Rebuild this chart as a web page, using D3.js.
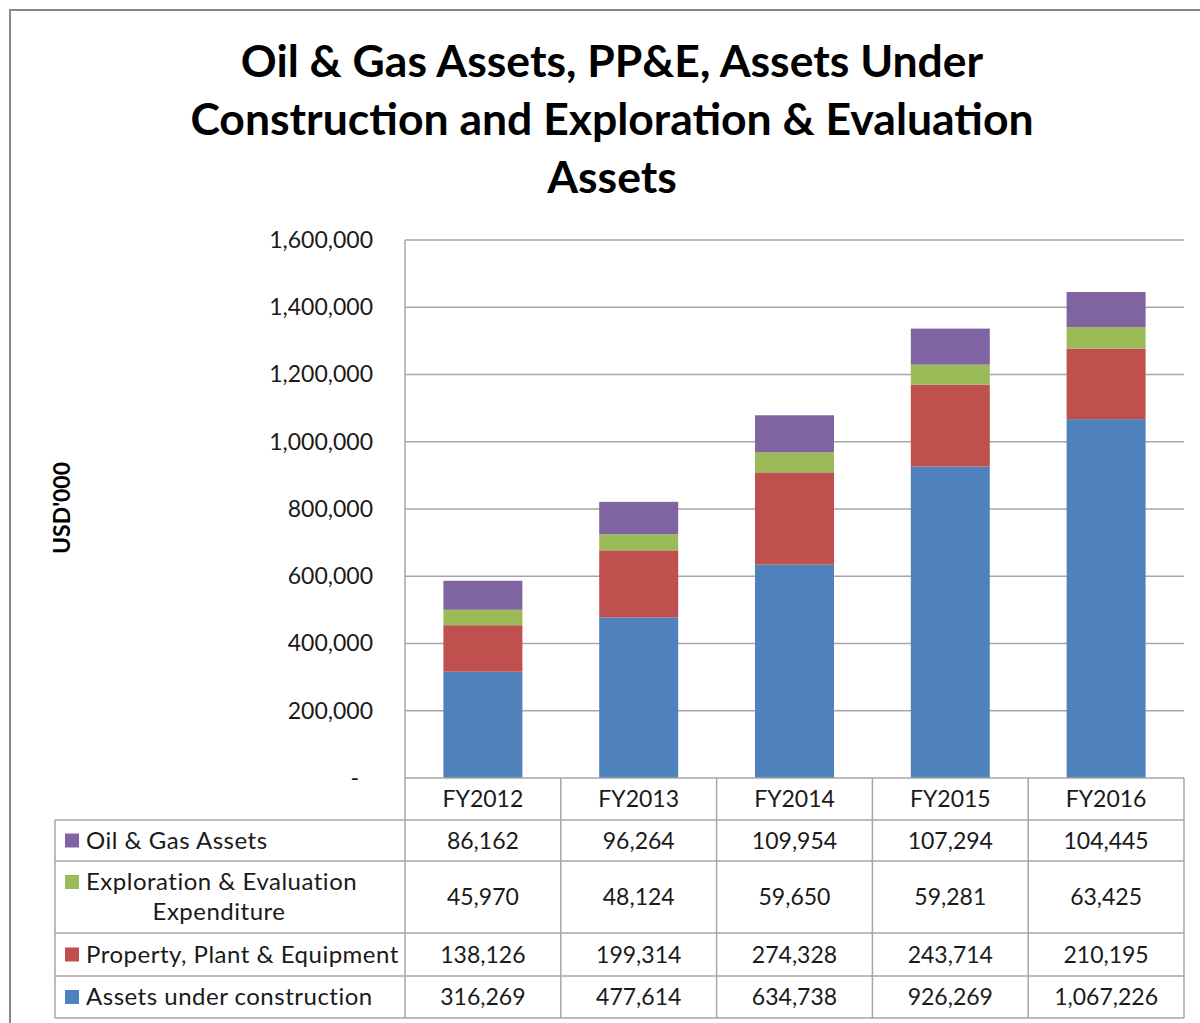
<!DOCTYPE html>
<html>
<head>
<meta charset="utf-8">
<script src="https://cdn.jsdelivr.net/npm/d3@7"></script>
<style>
  body { margin: 0; background: #fff; }
  text { font-family: Lato, "Open Sans", sans-serif; fill: #1a1a1a; }
</style>
</head>
<body>
<div class="chart"></div>
<script>
// data
const years = ["FY2012", "FY2013", "FY2014", "FY2015", "FY2016"];
const construction = [316269, 477614, 634738, 926269, 1067226];
const ppe = [138126, 199314, 274328, 243714, 210195];
const exploration = [45970, 48124, 59650, 59281, 63425];
const oilGas = [86162, 96264, 109954, 107294, 104445];
const yTicks = [0, 200000, 400000, 600000, 800000, 1000000, 1200000, 1400000, 1600000];

const series = [
  {key: "construction", name: ["Assets under construction"], values: construction, color: "#4F81BD"},
  {key: "ppe", name: ["Property, Plant & Equipment"], values: ppe, color: "#C0504D"},
  {key: "exploration", name: ["Exploration & Evaluation", "Expenditure"], values: exploration, color: "#9BBB59"},
  {key: "oilGas", name: ["Oil & Gas Assets"], values: oilGas, color: "#8064A2"}
];

const W = 1200, H = 1023;
const plot = {left: 405, right: 1184, top: 240, bottom: 778};

const svg = d3.select(".chart").append("svg")
  .attr("width", W)
  .attr("height", H);

// outer frame
svg.append("rect")
  .attr("x", 10).attr("y", 10)
  .attr("width", 1210).attr("height", 1040)
  .attr("fill", "none")
  .attr("stroke", "#878787")
  .attr("stroke-width", 2);

// title
const titleLines = ["Oil & Gas Assets, PP&E, Assets Under", "Construction and Exploration & Evaluation", "Assets"];
svg.append("g").selectAll("text")
  .data(titleLines)
  .enter().append("text")
  .attr("x", 612)
  .attr("y", (d, i) => 77 + i * 58)
  .attr("text-anchor", "middle")
  .style("font-size", "44.5px")
  .style("font-weight", "bold")
  .style("fill", "#000")
  .text(d => d);

const xScale = d3.scaleBand()
  .domain(years)
  .range([plot.left, plot.right]);

const yScale = d3.scaleLinear()
  .domain([0, 1600000])
  .range([plot.bottom, plot.top]);

// gridlines
svg.append("g").selectAll("line")
  .data(yTicks.slice(1))
  .enter().append("line")
  .attr("x1", plot.left).attr("x2", plot.right)
  .attr("y1", d => yScale(d)).attr("y2", d => yScale(d))
  .attr("stroke", "#a6a6a6")
  .attr("stroke-width", 1.5);

// y axis labels
const fmt = d3.format(",");
const yAxis = d3.axisLeft(yScale)
  .tickValues(yTicks)
  .tickSize(0)
  .tickPadding(32)
  .tickFormat(d => d === 0 ? "-" : fmt(d));
const yg = svg.append("g")
  .attr("transform", `translate(${plot.left},0)`)
  .call(yAxis);
yg.select(".domain").remove();
yg.selectAll("text")
  .style("font-size", "23px")
  .style("font-family", "Lato, sans-serif")
  .attr("fill", "#1a1a1a");
yg.selectAll(".tick").filter(d => d === 0).select("text").attr("dx", -14);

// y axis title
svg.append("text")
  .attr("transform", "translate(70,508) rotate(-90)")
  .attr("text-anchor", "middle")
  .style("font-size", "23px")
  .style("font-weight", "bold")
  .style("fill", "#000")
  .text("USD'000");

// stacked bars
const rows = years.map((y, i) => {
  const r = {year: y};
  series.forEach(s => r[s.key] = s.values[i]);
  return r;
});
const stacked = d3.stack().keys(series.map(s => s.key))(rows);
const barW = xScale.bandwidth() * 0.507;

svg.append("g").selectAll("g")
  .data(stacked)
  .enter().append("g")
  .attr("fill", (d, i) => series[i].color)
  .selectAll("rect")
  .data(d => d)
  .enter().append("rect")
  .attr("x", d => xScale(d.data.year) + (xScale.bandwidth() - barW) / 2)
  .attr("width", barW)
  .attr("y", d => yScale(d[1]))
  .attr("height", d => yScale(d[0]) - yScale(d[1]));

// data table
const tableLeft = 55;
const rowEdges = [778, 820, 861, 933, 976, 1018];
const tableOrder = series.slice().reverse(); // oil & gas first
const lineColor = "#a6a6a6";
const tg = svg.append("g");

// horizontal rules
tg.selectAll(".hrule")
  .data(rowEdges)
  .enter().append("line")
  .attr("x1", (d, i) => i === 0 ? plot.left : tableLeft)
  .attr("x2", plot.right)
  .attr("y1", d => d).attr("y2", d => d)
  .attr("stroke", lineColor)
  .attr("stroke-width", 1.5);

// vertical rules
const colEdges = years.map(y => xScale(y)).concat([plot.right]);
tg.selectAll(".vrule")
  .data(colEdges)
  .enter().append("line")
  .attr("x1", d => d).attr("x2", d => d)
  .attr("y1", (d, i) => i === 0 ? plot.top : rowEdges[0])
  .attr("y2", rowEdges[rowEdges.length - 1])
  .attr("stroke", lineColor)
  .attr("stroke-width", 1.5);
tg.append("line")
  .attr("x1", tableLeft).attr("x2", tableLeft)
  .attr("y1", rowEdges[1]).attr("y2", rowEdges[rowEdges.length - 1])
  .attr("stroke", lineColor)
  .attr("stroke-width", 1.5);

// header
tg.selectAll(".hdr")
  .data(years)
  .enter().append("text")
  .attr("x", d => xScale(d) + xScale.bandwidth() / 2)
  .attr("y", (rowEdges[0] + rowEdges[1]) / 2)
  .attr("dy", "0.35em")
  .attr("text-anchor", "middle")
  .style("font-size", "23px")
  .text(d => d);

// rows
tableOrder.forEach((s, r) => {
  const yMid = (rowEdges[r + 1] + rowEdges[r + 2]) / 2;
  const g = tg.append("g");
  const firstY = s.name.length > 1 ? yMid - 15 : yMid;
  g.append("rect")
    .attr("x", 65).attr("y", firstY - 7)
    .attr("width", 14).attr("height", 14)
    .attr("fill", s.color);
  if (s.name.length > 1) {
    g.append("text")
      .attr("x", 86).attr("y", firstY).attr("dy", "0.35em")
      .style("font-size", "24px").style("letter-spacing", "0.5px")
      .text(s.name[0]);
    g.append("text")
      .attr("x", 219).attr("y", yMid + 15).attr("dy", "0.35em")
      .attr("text-anchor", "middle")
      .style("font-size", "24px").style("letter-spacing", "0.5px")
      .text(s.name[1]);
  } else {
    g.append("text")
      .attr("x", 86).attr("y", yMid).attr("dy", "0.35em")
      .style("font-size", "24px").style("letter-spacing", "0.5px")
      .text(s.name[0]);
  }
  g.selectAll(".val")
    .data(s.values)
    .enter().append("text")
    .attr("x", (d, i) => xScale(years[i]) + xScale.bandwidth() / 2)
    .attr("y", yMid).attr("dy", "0.35em")
    .attr("text-anchor", "middle")
    .style("font-size", "23px")
    .text(d => fmt(d));
});
</script>
</body>
</html>
